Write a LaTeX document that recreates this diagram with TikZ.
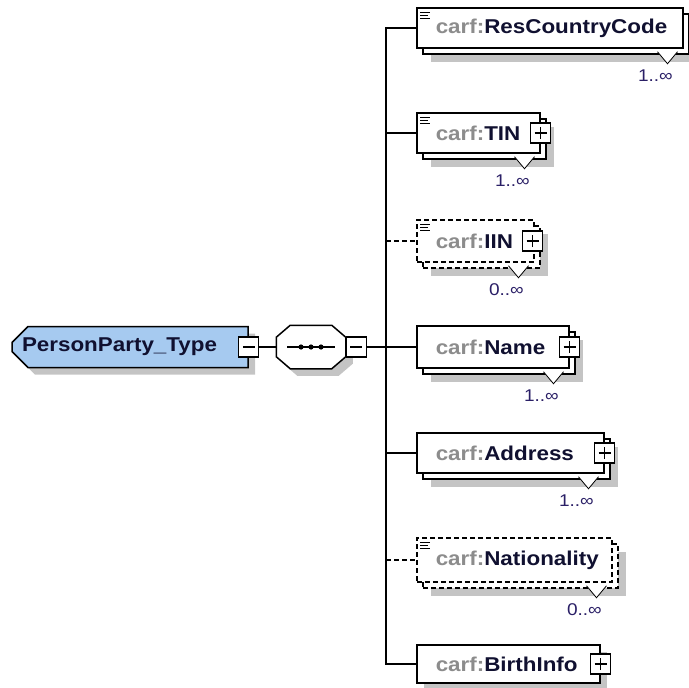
\documentclass[tikz,border=0pt]{standalone}
\usepackage{fontspec}
\setmainfont{Liberation Sans}[FakeStretch=1.12]
\usetikzlibrary{shadows,shapes.misc}

\definecolor{typeblue}{HTML}{A6CAF0}
\definecolor{prefixgray}{HTML}{8C8C8C}
\definecolor{namecol}{HTML}{101030}
\definecolor{multcol}{HTML}{2A1F66}
\definecolor{shadowgray}{HTML}{C4C4C4}

\begin{document}
\begin{tikzpicture}[
    x=1pt, y=-1pt,
    line width=1.5pt,
    font=\bfseries\fontsize{20}{24}\selectfont,
    % Style for the blue complex type box (cut corners on the left)
    ctype/.style={chamfered rectangle, chamfered rectangle corners={north west, south west},
        chamfered rectangle sep=8pt, draw, fill=typeblue, text=namecol,
        minimum width=236pt, minimum height=41pt, inner xsep=0pt, inner ysep=0pt,
        drop shadow={shadow xshift=7pt, shadow yshift=-7pt, fill=shadowgray, opacity=1}},
    % Sequence compositor: an empty node, its outline is drawn below
    seqbox/.style={minimum width=68pt, minimum height=42pt, inner sep=0pt},
    seqshape/.style={draw, fill=white,
        drop shadow={shadow xshift=7pt, shadow yshift=-7pt, fill=shadowgray, opacity=1}},
    % Styles for the child elements
    elem/.style={draw, fill=white, text=namecol, anchor=west, align=left,
        minimum height=40pt, inner xsep=19pt, inner ysep=0pt},
    single/.style={drop shadow={shadow xshift=7pt, shadow yshift=-7pt, fill=shadowgray, opacity=1}},
    multi/.style={drop shadow={shadow xshift=14pt, shadow yshift=-14pt, fill=shadowgray, opacity=1},
        copy shadow={shadow xshift=6pt, shadow yshift=-6pt, draw=black, fill=white}},
    optional/.style={dash pattern=on 5pt off 3pt},
    optmulti/.style={drop shadow={shadow xshift=14pt, shadow yshift=-14pt, fill=shadowgray, opacity=1},
        copy shadow={shadow xshift=6pt, shadow yshift=-6pt, draw=black, fill=white, dash pattern=on 5pt off 3pt}},
    optline/.style={dash pattern=on 5pt off 3pt},
    % Small expand / collapse boxes
    pm/.style={draw, fill=white, minimum size=20pt, inner sep=0pt, line width=1.3pt},
    plusbox/.style={pm, path picture={
        \draw[line width=1.3pt] ([xshift=-6pt]path picture bounding box.center) -- ([xshift=6pt]path picture bounding box.center)
            ([yshift=-6pt]path picture bounding box.center) -- ([yshift=6pt]path picture bounding box.center);}},
    minusbox/.style={pm, path picture={
        \draw[line width=1.3pt] ([xshift=-6pt]path picture bounding box.center) -- ([xshift=6pt]path picture bounding box.center);}},
    notch/.style={fill=white, draw=black, line width=0.8pt},
    mult label/.style={anchor=east, inner sep=0pt, text=multcol, font=\mdseries\fontsize{17}{20}\selectfont},
    icon/.style={line width=1.1pt}
]

    \useasboundingbox (0,0) rectangle (688,688);

    % --- 1. Bus coordinates ---
    \coordinate (bus1) at (386, 28);
    \coordinate (bus2) at (386, 133);
    \coordinate (bus3) at (386, 241);
    \coordinate (bus4) at (386, 347);
    \coordinate (bus5) at (386, 453);
    \coordinate (bus6) at (386, 560);
    \coordinate (bus7) at (386, 664);

    % --- 2. Type and sequence ---
    \node[ctype] (ptype) at (130, 347) {\makebox[216pt][l]{PersonParty\_Type}};
    \node[minusbox] (ptypem) at (ptype.east) {};
    \node[seqbox] (seq) at (311, 347) {};
    \draw[seqshape] ([xshift=14pt]seq.north west) -- ([xshift=-14pt]seq.north east)
        -- ([yshift=-12pt]seq.north east) -- ([yshift=12pt]seq.south east)
        -- ([xshift=-14pt]seq.south east) -- ([xshift=14pt]seq.south west)
        -- ([yshift=12pt]seq.south west) -- ([yshift=-12pt]seq.north west) -- cycle;
    \node[minusbox, anchor=west] (seqm) at (seq.east) {};

    \draw ([xshift=-24pt]seq.center) -- ([xshift=24pt]seq.center);
    \foreach \dx in {-10,0,10}
        \fill ([xshift=\dx pt]seq.center) circle (2.6);

    % --- 3. Child elements ---
    \node[elem, multi, text width=228pt] (rcc) at (416, 28) {{\color{prefixgray}carf:}ResCountryCode};
    \node[elem, multi, text width=85pt] (tin) at (416, 133) {{\color{prefixgray}carf:}TIN};
    \node[elem, optional, optmulti, text width=79pt, minimum height=42pt] (iin) at (416, 241) {{\color{prefixgray}carf:}IIN};
    \node[elem, multi, text width=114pt, minimum height=42pt] (name) at (416, 347) {{\color{prefixgray}carf:}Name};
    \node[elem, multi, text width=149pt] (addr) at (416, 453) {{\color{prefixgray}carf:}Address};
    \node[elem, optional, optmulti, text width=157pt, minimum height=44pt] (nat) at (416, 560) {{\color{prefixgray}carf:}Nationality};
    \node[elem, single, text width=145pt, minimum height=38pt] (birth) at (416, 664) {{\color{prefixgray}carf:}BirthInfo};

    \node[plusbox] (tinp) at (tin.east) {};
    \node[plusbox] (iinp) at ([xshift=-2pt]iin.east) {};
    \node[plusbox] (namep) at (name.east) {};
    \node[plusbox] (addrp) at (addr.east) {};
    \node[plusbox] (birthp) at (birth.east) {};

    % --- 4. Connectors ---
    \draw (ptypem.east) -- (seq.west);
    \draw (seqm.east) -- (bus4);
    \draw (rcc.west) -- (bus1) -- (bus7) -- (birth.west);
    \draw (bus2) -- (tin.west);
    \draw[optline] (bus3) -- (iin.west);
    \draw (bus4) -- (name.west);
    \draw (bus5) -- (addr.west);
    \draw[optline] (bus6) -- (nat.west);

    % --- 5. Multiplicities ---
    \foreach \n/\m in {rcc/1, tin/1, iin/0, name/1, addr/1, nat/0} {
        \coordinate (\n-tip) at ([xshift=-16pt, yshift=-15pt]\n.south east);
        \filldraw[notch] ([xshift=-10pt, yshift=12pt]\n-tip) -- (\n-tip) -- ([xshift=10pt, yshift=12pt]\n-tip);
        \node[mult label] (\n-mult) at ([xshift=6pt, yshift=-12pt]\n-tip) {\m..∞};
    }

    % --- 6. Simple type icons ---
    \foreach \n in {rcc, tin, iin, nat} {
        \draw[icon] ([xshift=4pt, yshift=-5pt]\n.north west) -- ++(10,0)
            ([xshift=4pt, yshift=-8pt]\n.north west) -- ++(8,0)
            ([xshift=4pt, yshift=-11pt]\n.north west) -- ++(10,0);
    }

\end{tikzpicture}
\end{document}
